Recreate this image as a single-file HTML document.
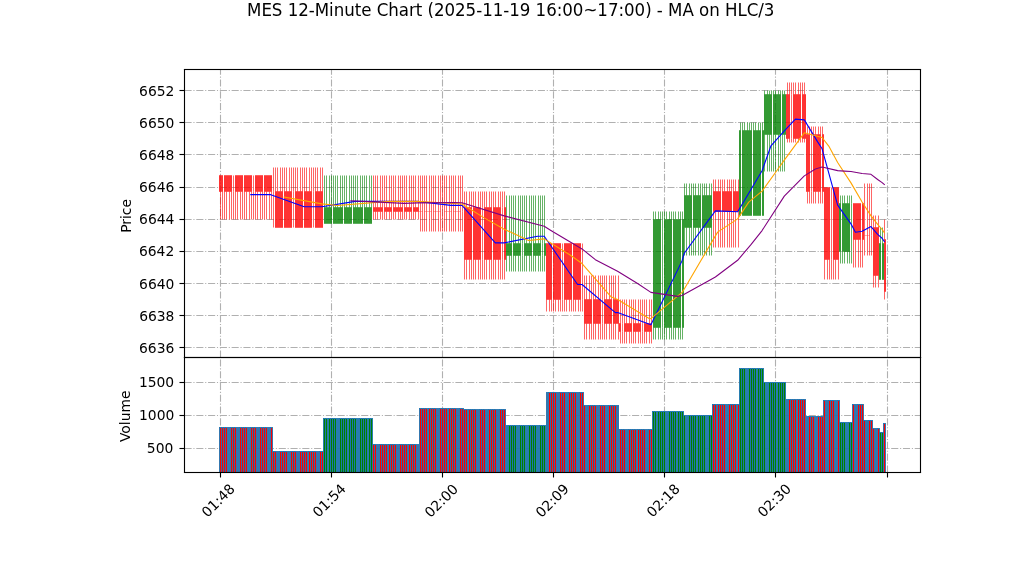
<!DOCTYPE html>
<html><head><meta charset="utf-8"><title>MES 12-Minute Chart</title>
<style>html,body{margin:0;padding:0;background:#fff;overflow:hidden}svg{display:block}</style></head>
<body>
<svg width="1022" height="575" viewBox="0 0 1022 575">
<defs><clipPath id="c1"><rect x="184" y="69" width="737" height="288"/></clipPath><clipPath id="c2"><rect x="184" y="356" width="737" height="116"/></clipPath></defs>
<rect width="1022" height="575" fill="#fff"/>
<g clip-path="url(#c1)">
<path d="M220.5 357.5V69.5M331.5 357.5V69.5M442.5 357.5V69.5M553.5 357.5V69.5M664.5 357.5V69.5M775.5 357.5V69.5M887.5 357.5V69.5M184.5 347.5H920.5M184.5 315.5H920.5M184.5 283.5H920.5M184.5 251.5H920.5M184.5 219.5H920.5M184.5 187.5H920.5M184.5 154.5H920.5M184.5 122.5H920.5M184.5 90.5H920.5" fill="none" stroke="#b0b0b0" stroke-width="1.111" stroke-dasharray="7.111 1.778 1.111 1.778"/>
<path d="M220.5 219.5V191.5M222.5 219.5V191.5M224.5 219.5V191.5M226.5 219.5V191.5M229.5 219.5V191.5M231.5 219.5V191.5M233.5 219.5V191.5M233.5 175.5V191.5M235.5 219.5V191.5M237.5 219.5V191.5M240.5 219.5V191.5M242.5 219.5V191.5M244.5 219.5V191.5M246.5 219.5V191.5M249.5 219.5V191.5M251.5 219.5V191.5M253.5 219.5V191.5M253.5 175.5V191.5M255.5 219.5V191.5M257.5 219.5V191.5M260.5 219.5V191.5M262.5 219.5V191.5M264.5 219.5V191.5M266.5 219.5V191.5M269.5 219.5V191.5M271.5 219.5V191.5M273.5 167.5V191.5M273.5 191.5V227.5M275.5 167.5V191.5M277.5 167.5V191.5M280.5 167.5V191.5M282.5 167.5V191.5M284.5 167.5V191.5M286.5 167.5V191.5M289.5 167.5V191.5M291.5 167.5V191.5M293.5 167.5V191.5M293.5 191.5V227.5M295.5 167.5V191.5M297.5 167.5V191.5M300.5 167.5V191.5M302.5 167.5V191.5M304.5 167.5V191.5M306.5 167.5V191.5M309.5 167.5V191.5M311.5 167.5V191.5M313.5 167.5V191.5M313.5 191.5V227.5M315.5 167.5V191.5M317.5 167.5V191.5M320.5 167.5V191.5M322.5 167.5V191.5M373.5 219.5V211.5M373.5 175.5V207.5M375.5 219.5V211.5M375.5 175.5V207.5M377.5 219.5V211.5M377.5 175.5V207.5M380.5 219.5V211.5M380.5 175.5V207.5M382.5 219.5V211.5M382.5 175.5V207.5M384.5 219.5V211.5M384.5 175.5V207.5M386.5 219.5V211.5M386.5 175.5V207.5M389.5 219.5V211.5M389.5 175.5V207.5M391.5 219.5V211.5M391.5 175.5V207.5M393.5 219.5V211.5M393.5 175.5V207.5M395.5 219.5V211.5M395.5 175.5V207.5M398.5 219.5V211.5M398.5 175.5V207.5M400.5 219.5V211.5M400.5 175.5V207.5M402.5 219.5V211.5M402.5 175.5V207.5M404.5 219.5V211.5M404.5 175.5V207.5M406.5 219.5V211.5M406.5 175.5V207.5M409.5 219.5V211.5M409.5 175.5V207.5M411.5 219.5V211.5M411.5 175.5V207.5M413.5 219.5V211.5M413.5 175.5V207.5M415.5 219.5V211.5M415.5 175.5V207.5M418.5 219.5V211.5M418.5 175.5V207.5M420.5 231.5V211.5M420.5 175.5V211.5M422.5 231.5V211.5M422.5 175.5V211.5M424.5 231.5V211.5M424.5 175.5V211.5M426.5 231.5V211.5M426.5 175.5V211.5M429.5 231.5V211.5M429.5 175.5V211.5M431.5 231.5V211.5M431.5 175.5V211.5M433.5 231.5V211.5M433.5 175.5V211.5M435.5 231.5V211.5M435.5 175.5V211.5M438.5 231.5V211.5M438.5 175.5V211.5M440.5 231.5V211.5M440.5 175.5V211.5M442.5 231.5V211.5M442.5 175.5V211.5M444.5 231.5V211.5M444.5 175.5V211.5M446.5 231.5V211.5M446.5 175.5V211.5M449.5 231.5V211.5M449.5 175.5V211.5M451.5 231.5V211.5M451.5 175.5V211.5M453.5 231.5V211.5M453.5 175.5V211.5M455.5 231.5V211.5M455.5 175.5V211.5M458.5 231.5V211.5M458.5 175.5V211.5M460.5 231.5V211.5M460.5 175.5V211.5M462.5 231.5V211.5M462.5 175.5V211.5M464.5 279.5V259.5M464.5 191.5V207.5M466.5 279.5V259.5M466.5 191.5V207.5M469.5 279.5V259.5M469.5 191.5V207.5M471.5 279.5V259.5M471.5 191.5V207.5M473.5 279.5V259.5M473.5 191.5V207.5M475.5 279.5V259.5M475.5 191.5V207.5M478.5 279.5V259.5M478.5 191.5V207.5M480.5 279.5V259.5M480.5 191.5V207.5M482.5 279.5V259.5M482.5 191.5V207.5M482.5 207.5V259.5M484.5 279.5V259.5M484.5 191.5V207.5M486.5 279.5V259.5M486.5 191.5V207.5M489.5 279.5V259.5M489.5 191.5V207.5M491.5 279.5V259.5M491.5 191.5V207.5M493.5 279.5V259.5M493.5 191.5V207.5M495.5 279.5V259.5M495.5 191.5V207.5M498.5 279.5V259.5M498.5 191.5V207.5M500.5 279.5V259.5M500.5 191.5V207.5M502.5 279.5V259.5M502.5 191.5V207.5M502.5 207.5V259.5M504.5 279.5V259.5M504.5 191.5V207.5M546.5 311.5V299.5M549.5 311.5V299.5M551.5 311.5V299.5M553.5 311.5V299.5M555.5 311.5V299.5M558.5 311.5V299.5M560.5 311.5V299.5M562.5 311.5V299.5M562.5 243.5V299.5M564.5 311.5V299.5M566.5 311.5V299.5M569.5 311.5V299.5M571.5 311.5V299.5M573.5 311.5V299.5M575.5 311.5V299.5M578.5 311.5V299.5M580.5 311.5V299.5M582.5 311.5V299.5M582.5 243.5V299.5M584.5 339.5V323.5M584.5 275.5V299.5M586.5 339.5V323.5M586.5 275.5V299.5M589.5 339.5V323.5M589.5 275.5V299.5M591.5 339.5V323.5M591.5 275.5V299.5M593.5 339.5V323.5M593.5 275.5V299.5M595.5 339.5V323.5M595.5 275.5V299.5M598.5 339.5V323.5M598.5 275.5V299.5M600.5 339.5V323.5M600.5 275.5V299.5M602.5 339.5V323.5M602.5 275.5V299.5M602.5 299.5V323.5M604.5 339.5V323.5M604.5 275.5V299.5M606.5 339.5V323.5M606.5 275.5V299.5M609.5 339.5V323.5M609.5 275.5V299.5M611.5 339.5V323.5M611.5 275.5V299.5M613.5 339.5V323.5M613.5 275.5V299.5M615.5 339.5V323.5M615.5 275.5V299.5M618.5 339.5V323.5M618.5 275.5V299.5M620.5 343.5V331.5M620.5 299.5V323.5M622.5 343.5V331.5M622.5 299.5V323.5M622.5 323.5V331.5M624.5 343.5V331.5M624.5 299.5V323.5M626.5 343.5V331.5M626.5 299.5V323.5M629.5 343.5V331.5M629.5 299.5V323.5M631.5 343.5V331.5M631.5 299.5V323.5M633.5 343.5V331.5M633.5 299.5V323.5M635.5 343.5V331.5M635.5 299.5V323.5M638.5 343.5V331.5M638.5 299.5V323.5M640.5 343.5V331.5M640.5 299.5V323.5M642.5 343.5V331.5M642.5 299.5V323.5M642.5 323.5V331.5M644.5 343.5V331.5M644.5 299.5V323.5M646.5 343.5V331.5M646.5 299.5V323.5M649.5 343.5V331.5M649.5 299.5V323.5M651.5 343.5V331.5M651.5 299.5V323.5M713.5 247.5V211.5M713.5 179.5V191.5M715.5 247.5V211.5M715.5 179.5V191.5M718.5 247.5V211.5M718.5 179.5V191.5M720.5 247.5V211.5M720.5 179.5V191.5M722.5 247.5V211.5M722.5 179.5V191.5M724.5 247.5V211.5M724.5 179.5V191.5M727.5 247.5V211.5M727.5 179.5V191.5M729.5 247.5V211.5M729.5 179.5V191.5M731.5 247.5V211.5M731.5 179.5V191.5M733.5 247.5V211.5M733.5 179.5V191.5M735.5 247.5V211.5M735.5 179.5V191.5M738.5 247.5V211.5M738.5 179.5V191.5M787.5 142.5V138.5M787.5 82.5V94.5M789.5 142.5V138.5M789.5 82.5V94.5M791.5 142.5V138.5M791.5 82.5V94.5M791.5 94.5V138.5M793.5 142.5V138.5M793.5 82.5V94.5M795.5 142.5V138.5M795.5 82.5V94.5M798.5 142.5V138.5M798.5 82.5V94.5M800.5 142.5V138.5M800.5 82.5V94.5M802.5 142.5V138.5M802.5 82.5V94.5M804.5 142.5V138.5M804.5 82.5V94.5M807.5 203.5V191.5M807.5 126.5V134.5M809.5 203.5V191.5M809.5 126.5V134.5M811.5 203.5V191.5M811.5 126.5V134.5M811.5 134.5V191.5M813.5 203.5V191.5M813.5 126.5V134.5M815.5 203.5V191.5M815.5 126.5V134.5M818.5 203.5V191.5M818.5 126.5V134.5M820.5 203.5V191.5M820.5 126.5V134.5M822.5 203.5V191.5M822.5 126.5V134.5M824.5 279.5V259.5M827.5 279.5V259.5M829.5 279.5V259.5M831.5 279.5V259.5M831.5 187.5V259.5M833.5 279.5V259.5M835.5 279.5V259.5M838.5 279.5V259.5M853.5 267.5V239.5M855.5 267.5V239.5M858.5 267.5V239.5M860.5 267.5V239.5M862.5 267.5V239.5M864.5 255.5V235.5M864.5 183.5V235.5M867.5 255.5V235.5M867.5 183.5V235.5M869.5 255.5V235.5M869.5 183.5V235.5M871.5 255.5V235.5M871.5 183.5V235.5M873.5 287.5V275.5M873.5 215.5V227.5M875.5 287.5V275.5M875.5 215.5V227.5M878.5 287.5V275.5M878.5 215.5V227.5M884.5 299.5V291.5M884.5 219.5V239.5" fill="none" stroke="#f00" stroke-width="0.604"/>
<path d="M324.5 175.5V207.5M326.5 175.5V207.5M329.5 175.5V207.5M331.5 175.5V207.5M333.5 175.5V207.5M335.5 175.5V207.5M337.5 175.5V207.5M340.5 175.5V207.5M342.5 175.5V207.5M344.5 175.5V207.5M346.5 175.5V207.5M349.5 175.5V207.5M351.5 175.5V207.5M353.5 175.5V207.5M355.5 175.5V207.5M357.5 175.5V207.5M360.5 175.5V207.5M362.5 175.5V207.5M364.5 175.5V207.5M366.5 175.5V207.5M369.5 175.5V207.5M371.5 175.5V207.5M506.5 271.5V255.5M506.5 195.5V243.5M509.5 271.5V255.5M509.5 195.5V243.5M511.5 271.5V255.5M511.5 195.5V243.5M513.5 271.5V255.5M513.5 195.5V243.5M515.5 271.5V255.5M515.5 195.5V243.5M518.5 271.5V255.5M518.5 195.5V243.5M520.5 271.5V255.5M520.5 195.5V243.5M522.5 271.5V255.5M522.5 195.5V243.5M522.5 243.5V255.5M524.5 271.5V255.5M524.5 195.5V243.5M526.5 271.5V255.5M526.5 195.5V243.5M529.5 271.5V255.5M529.5 195.5V243.5M531.5 271.5V255.5M531.5 195.5V243.5M533.5 271.5V255.5M533.5 195.5V243.5M535.5 271.5V255.5M535.5 195.5V243.5M538.5 271.5V255.5M538.5 195.5V243.5M540.5 271.5V255.5M540.5 195.5V243.5M542.5 271.5V255.5M542.5 195.5V243.5M542.5 243.5V255.5M544.5 271.5V255.5M544.5 195.5V243.5M653.5 339.5V327.5M653.5 211.5V219.5M655.5 339.5V327.5M655.5 211.5V219.5M658.5 339.5V327.5M658.5 211.5V219.5M660.5 339.5V327.5M660.5 211.5V219.5M662.5 339.5V327.5M662.5 211.5V219.5M662.5 219.5V327.5M664.5 339.5V327.5M664.5 211.5V219.5M666.5 339.5V327.5M666.5 211.5V219.5M669.5 339.5V327.5M669.5 211.5V219.5M671.5 339.5V327.5M671.5 211.5V219.5M673.5 339.5V327.5M673.5 211.5V219.5M675.5 339.5V327.5M675.5 211.5V219.5M678.5 339.5V327.5M678.5 211.5V219.5M680.5 339.5V327.5M680.5 211.5V219.5M682.5 339.5V327.5M682.5 211.5V219.5M684.5 255.5V227.5M684.5 183.5V195.5M686.5 255.5V227.5M686.5 183.5V195.5M689.5 255.5V227.5M689.5 183.5V195.5M691.5 255.5V227.5M691.5 183.5V195.5M693.5 255.5V227.5M693.5 183.5V195.5M695.5 255.5V227.5M695.5 183.5V195.5M698.5 255.5V227.5M698.5 183.5V195.5M700.5 255.5V227.5M700.5 183.5V195.5M702.5 255.5V227.5M702.5 183.5V195.5M704.5 255.5V227.5M704.5 183.5V195.5M706.5 255.5V227.5M706.5 183.5V195.5M709.5 255.5V227.5M709.5 183.5V195.5M711.5 255.5V227.5M711.5 183.5V195.5M740.5 122.5V130.5M742.5 122.5V130.5M744.5 122.5V130.5M747.5 122.5V130.5M749.5 122.5V130.5M751.5 122.5V130.5M753.5 122.5V130.5M755.5 122.5V130.5M758.5 122.5V130.5M760.5 122.5V130.5M762.5 122.5V130.5M764.5 171.5V134.5M764.5 90.5V94.5M767.5 171.5V134.5M767.5 90.5V94.5M769.5 171.5V134.5M769.5 90.5V94.5M771.5 171.5V134.5M771.5 90.5V94.5M773.5 171.5V134.5M773.5 90.5V94.5M775.5 171.5V134.5M775.5 90.5V94.5M778.5 171.5V134.5M778.5 90.5V94.5M780.5 171.5V134.5M780.5 90.5V94.5M782.5 171.5V134.5M782.5 90.5V94.5M784.5 171.5V134.5M784.5 90.5V94.5M840.5 263.5V251.5M840.5 195.5V203.5M842.5 263.5V251.5M842.5 195.5V203.5M844.5 263.5V251.5M844.5 195.5V203.5M847.5 263.5V251.5M847.5 195.5V203.5M849.5 263.5V251.5M849.5 195.5V203.5M851.5 263.5V251.5M851.5 195.5V203.5M851.5 203.5V251.5M880.5 227.5V243.5M882.5 227.5V243.5" fill="none" stroke="#008000" stroke-width="0.604"/>
<path d="M419.5 211.5H420.5M421.5 211.5H422.5M424.5 211.5H425.5M426.5 211.5H427.5M428.5 211.5H429.5M430.5 211.5H431.5M433.5 211.5H434.5M435.5 211.5H436.5M437.5 211.5H438.5M439.5 211.5H440.5M444.5 211.5H445.5M446.5 211.5H447.5M448.5 211.5H449.5M450.5 211.5H451.5M453.5 211.5H454.5M455.5 211.5H456.5M457.5 211.5H458.5M459.5 211.5H460.5M864.5 235.5H865.5M866.5 235.5H867.5M868.5 235.5H869.5" fill="none" stroke="#f00" stroke-width="0.604"/>
<path d="M219.5 175.5V191.5H220.5V175.5ZM221.5 175.5V191.5H222.5V175.5ZM224.5 175.5V191.5H225.5V175.5ZM226.5 175.5V191.5H227.5V175.5ZM228.5 175.5V191.5H229.5V175.5ZM230.5 175.5V191.5H231.5V175.5ZM235.5 175.5V191.5H236.5V175.5ZM237.5 175.5V191.5H238.5V175.5ZM239.5 175.5V191.5H240.5V175.5ZM241.5 175.5V191.5H242.5V175.5ZM244.5 175.5V191.5H245.5V175.5ZM246.5 175.5V191.5H247.5V175.5ZM248.5 175.5V191.5H249.5V175.5ZM250.5 175.5V191.5H251.5V175.5ZM255.5 175.5V191.5H256.5V175.5ZM257.5 175.5V191.5H258.5V175.5ZM259.5 175.5V191.5H260.5V175.5ZM261.5 175.5V191.5H262.5V175.5ZM264.5 175.5V191.5H265.5V175.5ZM266.5 175.5V191.5H267.5V175.5ZM268.5 175.5V191.5H269.5V175.5ZM270.5 175.5V191.5H271.5V175.5ZM275.5 191.5V227.5H276.5V191.5ZM277.5 191.5V227.5H278.5V191.5ZM279.5 191.5V227.5H280.5V191.5ZM281.5 191.5V227.5H282.5V191.5ZM284.5 191.5V227.5H285.5V191.5ZM286.5 191.5V227.5H287.5V191.5ZM288.5 191.5V227.5H289.5V191.5ZM290.5 191.5V227.5H291.5V191.5ZM295.5 191.5V227.5H296.5V191.5ZM297.5 191.5V227.5H298.5V191.5ZM299.5 191.5V227.5H300.5V191.5ZM301.5 191.5V227.5H302.5V191.5ZM304.5 191.5V227.5H305.5V191.5ZM306.5 191.5V227.5H307.5V191.5ZM308.5 191.5V227.5H309.5V191.5ZM310.5 191.5V227.5H311.5V191.5ZM315.5 191.5V227.5H316.5V191.5ZM317.5 191.5V227.5H318.5V191.5ZM319.5 191.5V227.5H320.5V191.5ZM321.5 191.5V227.5H322.5V191.5ZM373.5 207.5V211.5H374.5V207.5ZM375.5 207.5V211.5H376.5V207.5ZM377.5 207.5V211.5H378.5V207.5ZM379.5 207.5V211.5H380.5V207.5ZM381.5 207.5V211.5H382.5V207.5ZM384.5 207.5V211.5H385.5V207.5ZM386.5 207.5V211.5H387.5V207.5ZM388.5 207.5V211.5H389.5V207.5ZM390.5 207.5V211.5H391.5V207.5ZM393.5 207.5V211.5H394.5V207.5ZM395.5 207.5V211.5H396.5V207.5ZM397.5 207.5V211.5H398.5V207.5ZM399.5 207.5V211.5H400.5V207.5ZM401.5 207.5V211.5H402.5V207.5ZM404.5 207.5V211.5H405.5V207.5ZM406.5 207.5V211.5H407.5V207.5ZM408.5 207.5V211.5H409.5V207.5ZM410.5 207.5V211.5H411.5V207.5ZM413.5 207.5V211.5H414.5V207.5ZM415.5 207.5V211.5H416.5V207.5ZM417.5 207.5V211.5H418.5V207.5ZM464.5 207.5V259.5H465.5V207.5ZM466.5 207.5V259.5H467.5V207.5ZM468.5 207.5V259.5H469.5V207.5ZM470.5 207.5V259.5H471.5V207.5ZM473.5 207.5V259.5H474.5V207.5ZM475.5 207.5V259.5H476.5V207.5ZM477.5 207.5V259.5H478.5V207.5ZM479.5 207.5V259.5H480.5V207.5ZM484.5 207.5V259.5H485.5V207.5ZM486.5 207.5V259.5H487.5V207.5ZM488.5 207.5V259.5H489.5V207.5ZM490.5 207.5V259.5H491.5V207.5ZM493.5 207.5V259.5H494.5V207.5ZM495.5 207.5V259.5H496.5V207.5ZM497.5 207.5V259.5H498.5V207.5ZM499.5 207.5V259.5H500.5V207.5ZM504.5 207.5V259.5H505.5V207.5ZM546.5 243.5V299.5H547.5V243.5ZM548.5 243.5V299.5H549.5V243.5ZM550.5 243.5V299.5H551.5V243.5ZM553.5 243.5V299.5H554.5V243.5ZM555.5 243.5V299.5H556.5V243.5ZM557.5 243.5V299.5H558.5V243.5ZM559.5 243.5V299.5H560.5V243.5ZM564.5 243.5V299.5H565.5V243.5ZM566.5 243.5V299.5H567.5V243.5ZM568.5 243.5V299.5H569.5V243.5ZM570.5 243.5V299.5H571.5V243.5ZM573.5 243.5V299.5H574.5V243.5ZM575.5 243.5V299.5H576.5V243.5ZM577.5 243.5V299.5H578.5V243.5ZM579.5 243.5V299.5H580.5V243.5ZM584.5 299.5V323.5H585.5V299.5ZM586.5 299.5V323.5H587.5V299.5ZM588.5 299.5V323.5H589.5V299.5ZM590.5 299.5V323.5H591.5V299.5ZM593.5 299.5V323.5H594.5V299.5ZM595.5 299.5V323.5H596.5V299.5ZM597.5 299.5V323.5H598.5V299.5ZM599.5 299.5V323.5H600.5V299.5ZM604.5 299.5V323.5H605.5V299.5ZM606.5 299.5V323.5H607.5V299.5ZM608.5 299.5V323.5H609.5V299.5ZM610.5 299.5V323.5H611.5V299.5ZM613.5 299.5V323.5H614.5V299.5ZM615.5 299.5V323.5H616.5V299.5ZM617.5 299.5V323.5H618.5V299.5ZM619.5 323.5V331.5H620.5V323.5ZM624.5 323.5V331.5H625.5V323.5ZM626.5 323.5V331.5H627.5V323.5ZM628.5 323.5V331.5H629.5V323.5ZM630.5 323.5V331.5H631.5V323.5ZM633.5 323.5V331.5H634.5V323.5ZM635.5 323.5V331.5H636.5V323.5ZM637.5 323.5V331.5H638.5V323.5ZM639.5 323.5V331.5H640.5V323.5ZM644.5 323.5V331.5H645.5V323.5ZM646.5 323.5V331.5H647.5V323.5ZM648.5 323.5V331.5H649.5V323.5ZM650.5 323.5V331.5H651.5V323.5ZM713.5 191.5V211.5H714.5V191.5ZM715.5 191.5V211.5H716.5V191.5ZM717.5 191.5V211.5H718.5V191.5ZM719.5 191.5V211.5H720.5V191.5ZM722.5 191.5V211.5H723.5V191.5ZM724.5 191.5V211.5H725.5V191.5ZM726.5 191.5V211.5H727.5V191.5ZM728.5 191.5V211.5H729.5V191.5ZM730.5 191.5V211.5H731.5V191.5ZM733.5 191.5V211.5H734.5V191.5ZM735.5 191.5V211.5H736.5V191.5ZM737.5 191.5V211.5H738.5V191.5ZM786.5 94.5V138.5H787.5V94.5ZM788.5 94.5V138.5H789.5V94.5ZM793.5 94.5V138.5H794.5V94.5ZM795.5 94.5V138.5H796.5V94.5ZM797.5 94.5V138.5H798.5V94.5ZM799.5 94.5V138.5H800.5V94.5ZM802.5 94.5V138.5H803.5V94.5ZM804.5 94.5V138.5H805.5V94.5ZM806.5 134.5V191.5H807.5V134.5ZM808.5 134.5V191.5H809.5V134.5ZM813.5 134.5V191.5H814.5V134.5ZM815.5 134.5V191.5H816.5V134.5ZM817.5 134.5V191.5H818.5V134.5ZM819.5 134.5V191.5H820.5V134.5ZM822.5 134.5V191.5H823.5V134.5ZM824.5 187.5V259.5H825.5V187.5ZM826.5 187.5V259.5H827.5V187.5ZM828.5 187.5V259.5H829.5V187.5ZM833.5 187.5V259.5H834.5V187.5ZM835.5 187.5V259.5H836.5V187.5ZM837.5 187.5V259.5H838.5V187.5ZM853.5 203.5V239.5H854.5V203.5ZM855.5 203.5V239.5H856.5V203.5ZM857.5 203.5V239.5H858.5V203.5ZM859.5 203.5V239.5H860.5V203.5ZM862.5 203.5V239.5H863.5V203.5ZM873.5 227.5V275.5H874.5V227.5ZM875.5 227.5V275.5H876.5V227.5ZM877.5 227.5V275.5H878.5V227.5ZM884.5 239.5V291.5H885.5V239.5Z" fill="#f00" stroke="#f00" stroke-width="0.604" stroke-linejoin="round"/>
<path d="M324.5 223.5V207.5H325.5V223.5ZM326.5 223.5V207.5H327.5V223.5ZM328.5 223.5V207.5H329.5V223.5ZM330.5 223.5V207.5H331.5V223.5ZM333.5 223.5V207.5H334.5V223.5ZM335.5 223.5V207.5H336.5V223.5ZM337.5 223.5V207.5H338.5V223.5ZM339.5 223.5V207.5H340.5V223.5ZM341.5 223.5V207.5H342.5V223.5ZM344.5 223.5V207.5H345.5V223.5ZM346.5 223.5V207.5H347.5V223.5ZM348.5 223.5V207.5H349.5V223.5ZM350.5 223.5V207.5H351.5V223.5ZM353.5 223.5V207.5H354.5V223.5ZM355.5 223.5V207.5H356.5V223.5ZM357.5 223.5V207.5H358.5V223.5ZM359.5 223.5V207.5H360.5V223.5ZM361.5 223.5V207.5H362.5V223.5ZM364.5 223.5V207.5H365.5V223.5ZM366.5 223.5V207.5H367.5V223.5ZM368.5 223.5V207.5H369.5V223.5ZM370.5 223.5V207.5H371.5V223.5ZM506.5 255.5V243.5H507.5V255.5ZM508.5 255.5V243.5H509.5V255.5ZM510.5 255.5V243.5H511.5V255.5ZM513.5 255.5V243.5H514.5V255.5ZM515.5 255.5V243.5H516.5V255.5ZM517.5 255.5V243.5H518.5V255.5ZM519.5 255.5V243.5H520.5V255.5ZM524.5 255.5V243.5H525.5V255.5ZM526.5 255.5V243.5H527.5V255.5ZM528.5 255.5V243.5H529.5V255.5ZM530.5 255.5V243.5H531.5V255.5ZM533.5 255.5V243.5H534.5V255.5ZM535.5 255.5V243.5H536.5V255.5ZM537.5 255.5V243.5H538.5V255.5ZM539.5 255.5V243.5H540.5V255.5ZM544.5 255.5V243.5H545.5V255.5ZM653.5 327.5V219.5H654.5V327.5ZM655.5 327.5V219.5H656.5V327.5ZM657.5 327.5V219.5H658.5V327.5ZM659.5 327.5V219.5H660.5V327.5ZM664.5 327.5V219.5H665.5V327.5ZM666.5 327.5V219.5H667.5V327.5ZM668.5 327.5V219.5H669.5V327.5ZM670.5 327.5V219.5H671.5V327.5ZM673.5 327.5V219.5H674.5V327.5ZM675.5 327.5V219.5H676.5V327.5ZM677.5 327.5V219.5H678.5V327.5ZM679.5 327.5V219.5H680.5V327.5ZM682.5 327.5V219.5H683.5V327.5ZM684.5 227.5V195.5H685.5V227.5ZM686.5 227.5V195.5H687.5V227.5ZM688.5 227.5V195.5H689.5V227.5ZM690.5 227.5V195.5H691.5V227.5ZM693.5 227.5V195.5H694.5V227.5ZM695.5 227.5V195.5H696.5V227.5ZM697.5 227.5V195.5H698.5V227.5ZM699.5 227.5V195.5H700.5V227.5ZM702.5 227.5V195.5H703.5V227.5ZM704.5 227.5V195.5H705.5V227.5ZM706.5 227.5V195.5H707.5V227.5ZM708.5 227.5V195.5H709.5V227.5ZM710.5 227.5V195.5H711.5V227.5ZM739.5 215.5V130.5H740.5V215.5ZM742.5 215.5V130.5H743.5V215.5ZM744.5 215.5V130.5H745.5V215.5ZM746.5 215.5V130.5H747.5V215.5ZM748.5 215.5V130.5H749.5V215.5ZM750.5 215.5V130.5H751.5V215.5ZM753.5 215.5V130.5H754.5V215.5ZM755.5 215.5V130.5H756.5V215.5ZM757.5 215.5V130.5H758.5V215.5ZM759.5 215.5V130.5H760.5V215.5ZM762.5 215.5V130.5H763.5V215.5ZM764.5 134.5V94.5H765.5V134.5ZM766.5 134.5V94.5H767.5V134.5ZM768.5 134.5V94.5H769.5V134.5ZM770.5 134.5V94.5H771.5V134.5ZM773.5 134.5V94.5H774.5V134.5ZM775.5 134.5V94.5H776.5V134.5ZM777.5 134.5V94.5H778.5V134.5ZM779.5 134.5V94.5H780.5V134.5ZM782.5 134.5V94.5H783.5V134.5ZM784.5 134.5V94.5H785.5V134.5ZM839.5 251.5V203.5H840.5V251.5ZM842.5 251.5V203.5H843.5V251.5ZM844.5 251.5V203.5H845.5V251.5ZM846.5 251.5V203.5H847.5V251.5ZM848.5 251.5V203.5H849.5V251.5ZM879.5 279.5V243.5H880.5V279.5ZM882.5 279.5V243.5H883.5V279.5Z" fill="#008000" stroke="#008000" stroke-width="0.604" stroke-linejoin="round"/>
<path d="M250.79 194.656 L270.797 194.656 L304.141 206.719 L321.925 206.719 L355.269 201.357 L417.512 201.357 L450.856 205.378 L461.971 205.378 L495.315 242.907 L504.207 242.907 L537.551 236.206 L544.22 236.206 L577.564 284.457 L582.01 284.457 L615.354 312.604 L617.577 312.604 L650.921 324.667 L682.043 260.868 L684.266 253.273 L710.941 216.816 L715.387 210.918 L737.617 211.812 L744.285 200.821 L762.069 170.798 L770.961 145.778 L784.298 130.767 L795.413 119.151 L804.305 119.865 L817.643 141.847 L822.089 148.816 L837.649 205.11 L850.987 223.875 L855.433 232.274 L862.102 231.202 L870.994 226.555 L877.662 234.329 L882.108 238.261 L884.331 241.567" fill="none" stroke="#00f" stroke-width="1.099" stroke-linecap="square" stroke-linejoin="round"/>
<path d="M284.135 197.068 L321.925 203.904 L337.486 205.468 L388.613 201.357 L417.512 201.357 L461.971 204.038 L484.2 217.888 L504.207 229.147 L528.659 240.45 L544.22 238.886 L570.895 255.506 L582.01 263.548 L610.908 296.654 L617.577 299.469 L648.699 318.234 L650.921 318.636 L682.043 292.365 L684.266 288.97 L710.941 243.399 L717.61 232.14 L737.617 218.871 L748.731 202.117 L762.069 191.126 L777.63 169.547 L784.298 160.165 L804.305 132.822 L822.089 137.468 L828.757 146.046 L837.649 162.488 L850.987 182.861 L862.102 202.072 L870.994 215.833 L877.662 224.411 L882.108 229.504 L884.331 232.721" fill="none" stroke="#ffa500" stroke-width="1.099" stroke-linecap="square" stroke-linejoin="round"/>
<path d="M350.823 200.732 L404.174 203.412 L417.512 202.876 L455.302 202.497 L461.971 202.698 L504.207 215.855 L544.22 226.31 L550.889 230.465 L582.01 248.916 L595.348 259.639 L617.577 271.255 L637.584 283.519 L650.921 292.365 L677.597 296.386 L682.043 295.448 L710.941 279.476 L715.387 277.063 L737.617 260.309 L750.954 244.627 L762.069 230.554 L784.298 196.152 L804.305 175.846 L815.42 168.921 L822.089 167.045 L837.649 170.641 L844.318 171.111 L850.987 171.513 L862.102 173.523 L870.994 174.327 L877.662 179.488 L882.108 182.615 L884.331 184.514" fill="none" stroke="#800080" stroke-width="1.099" stroke-linecap="square" stroke-linejoin="round"/>
</g>
<g clip-path="url(#c2)">
<path d="M220.5 472.5V357.5M331.5 472.5V357.5M442.5 472.5V357.5M553.5 472.5V357.5M664.5 472.5V357.5M775.5 472.5V357.5M887.5 472.5V357.5M184.5 448.5H920.5M184.5 415.5H920.5M184.5 382.5H920.5" fill="none" stroke="#b0b0b0" stroke-width="1.111" stroke-dasharray="7.111 1.778 1.111 1.778"/>
<g stroke="#1f77b4" stroke-width="0.903">
<rect x="219.5" y="427.5" width="2" height="53" fill="#f00"/>
<rect x="221.5" y="427.5" width="2" height="53" fill="#f00"/>
<rect x="223.5" y="427.5" width="2" height="53" fill="#f00"/>
<rect x="225.5" y="427.5" width="2" height="53" fill="#f00"/>
<rect x="228.5" y="427.5" width="1" height="53" fill="#f00"/>
<rect x="230.5" y="427.5" width="2" height="53" fill="#f00"/>
<rect x="232.5" y="427.5" width="2" height="53" fill="#f00"/>
<rect x="234.5" y="427.5" width="2" height="53" fill="#f00"/>
<rect x="237.5" y="427.5" width="1" height="53" fill="#f00"/>
<rect x="239.5" y="427.5" width="2" height="53" fill="#f00"/>
<rect x="241.5" y="427.5" width="2" height="53" fill="#f00"/>
<rect x="243.5" y="427.5" width="2" height="53" fill="#f00"/>
<rect x="245.5" y="427.5" width="2" height="53" fill="#f00"/>
<rect x="248.5" y="427.5" width="1" height="53" fill="#f00"/>
<rect x="250.5" y="427.5" width="2" height="53" fill="#f00"/>
<rect x="252.5" y="427.5" width="2" height="53" fill="#f00"/>
<rect x="254.5" y="427.5" width="2" height="53" fill="#f00"/>
<rect x="257.5" y="427.5" width="1" height="53" fill="#f00"/>
<rect x="259.5" y="427.5" width="2" height="53" fill="#f00"/>
<rect x="261.5" y="427.5" width="2" height="53" fill="#f00"/>
<rect x="263.5" y="427.5" width="2" height="53" fill="#f00"/>
<rect x="265.5" y="427.5" width="2" height="53" fill="#f00"/>
<rect x="268.5" y="427.5" width="1" height="53" fill="#f00"/>
<rect x="270.5" y="427.5" width="2" height="53" fill="#f00"/>
<rect x="272.5" y="451.5" width="2" height="29" fill="#f00"/>
<rect x="274.5" y="451.5" width="2" height="29" fill="#f00"/>
<rect x="277.5" y="451.5" width="1" height="29" fill="#f00"/>
<rect x="279.5" y="451.5" width="2" height="29" fill="#f00"/>
<rect x="281.5" y="451.5" width="2" height="29" fill="#f00"/>
<rect x="283.5" y="451.5" width="2" height="29" fill="#f00"/>
<rect x="285.5" y="451.5" width="2" height="29" fill="#f00"/>
<rect x="288.5" y="451.5" width="1" height="29" fill="#f00"/>
<rect x="290.5" y="451.5" width="2" height="29" fill="#f00"/>
<rect x="292.5" y="451.5" width="2" height="29" fill="#f00"/>
<rect x="294.5" y="451.5" width="2" height="29" fill="#f00"/>
<rect x="297.5" y="451.5" width="1" height="29" fill="#f00"/>
<rect x="299.5" y="451.5" width="2" height="29" fill="#f00"/>
<rect x="301.5" y="451.5" width="2" height="29" fill="#f00"/>
<rect x="303.5" y="451.5" width="2" height="29" fill="#f00"/>
<rect x="305.5" y="451.5" width="2" height="29" fill="#f00"/>
<rect x="308.5" y="451.5" width="2" height="29" fill="#f00"/>
<rect x="310.5" y="451.5" width="2" height="29" fill="#f00"/>
<rect x="312.5" y="451.5" width="2" height="29" fill="#f00"/>
<rect x="314.5" y="451.5" width="2" height="29" fill="#f00"/>
<rect x="317.5" y="451.5" width="1" height="29" fill="#f00"/>
<rect x="319.5" y="451.5" width="2" height="29" fill="#f00"/>
<rect x="321.5" y="451.5" width="2" height="29" fill="#f00"/>
<rect x="323.5" y="418.5" width="2" height="62" fill="#008000"/>
<rect x="325.5" y="418.5" width="2" height="62" fill="#008000"/>
<rect x="328.5" y="418.5" width="2" height="62" fill="#008000"/>
<rect x="330.5" y="418.5" width="2" height="62" fill="#008000"/>
<rect x="332.5" y="418.5" width="2" height="62" fill="#008000"/>
<rect x="334.5" y="418.5" width="2" height="62" fill="#008000"/>
<rect x="337.5" y="418.5" width="1" height="62" fill="#008000"/>
<rect x="339.5" y="418.5" width="2" height="62" fill="#008000"/>
<rect x="341.5" y="418.5" width="2" height="62" fill="#008000"/>
<rect x="343.5" y="418.5" width="2" height="62" fill="#008000"/>
<rect x="345.5" y="418.5" width="2" height="62" fill="#008000"/>
<rect x="348.5" y="418.5" width="2" height="62" fill="#008000"/>
<rect x="350.5" y="418.5" width="2" height="62" fill="#008000"/>
<rect x="352.5" y="418.5" width="2" height="62" fill="#008000"/>
<rect x="354.5" y="418.5" width="2" height="62" fill="#008000"/>
<rect x="357.5" y="418.5" width="1" height="62" fill="#008000"/>
<rect x="359.5" y="418.5" width="2" height="62" fill="#008000"/>
<rect x="361.5" y="418.5" width="2" height="62" fill="#008000"/>
<rect x="363.5" y="418.5" width="2" height="62" fill="#008000"/>
<rect x="365.5" y="418.5" width="2" height="62" fill="#008000"/>
<rect x="368.5" y="418.5" width="2" height="62" fill="#008000"/>
<rect x="370.5" y="418.5" width="2" height="62" fill="#008000"/>
<rect x="372.5" y="444.5" width="2" height="36" fill="#f00"/>
<rect x="374.5" y="444.5" width="2" height="36" fill="#f00"/>
<rect x="377.5" y="444.5" width="1" height="36" fill="#f00"/>
<rect x="379.5" y="444.5" width="2" height="36" fill="#f00"/>
<rect x="381.5" y="444.5" width="2" height="36" fill="#f00"/>
<rect x="383.5" y="444.5" width="2" height="36" fill="#f00"/>
<rect x="385.5" y="444.5" width="2" height="36" fill="#f00"/>
<rect x="388.5" y="444.5" width="2" height="36" fill="#f00"/>
<rect x="390.5" y="444.5" width="2" height="36" fill="#f00"/>
<rect x="392.5" y="444.5" width="2" height="36" fill="#f00"/>
<rect x="394.5" y="444.5" width="2" height="36" fill="#f00"/>
<rect x="397.5" y="444.5" width="1" height="36" fill="#f00"/>
<rect x="399.5" y="444.5" width="2" height="36" fill="#f00"/>
<rect x="401.5" y="444.5" width="2" height="36" fill="#f00"/>
<rect x="403.5" y="444.5" width="2" height="36" fill="#f00"/>
<rect x="405.5" y="444.5" width="2" height="36" fill="#f00"/>
<rect x="408.5" y="444.5" width="2" height="36" fill="#f00"/>
<rect x="410.5" y="444.5" width="2" height="36" fill="#f00"/>
<rect x="412.5" y="444.5" width="2" height="36" fill="#f00"/>
<rect x="414.5" y="444.5" width="2" height="36" fill="#f00"/>
<rect x="417.5" y="444.5" width="1" height="36" fill="#f00"/>
<rect x="419.5" y="408.5" width="2" height="72" fill="#f00"/>
<rect x="421.5" y="408.5" width="2" height="72" fill="#f00"/>
<rect x="423.5" y="408.5" width="2" height="72" fill="#f00"/>
<rect x="425.5" y="408.5" width="2" height="72" fill="#f00"/>
<rect x="428.5" y="408.5" width="2" height="72" fill="#f00"/>
<rect x="430.5" y="408.5" width="2" height="72" fill="#f00"/>
<rect x="432.5" y="408.5" width="2" height="72" fill="#f00"/>
<rect x="434.5" y="408.5" width="2" height="72" fill="#f00"/>
<rect x="437.5" y="408.5" width="1" height="72" fill="#f00"/>
<rect x="439.5" y="408.5" width="2" height="72" fill="#f00"/>
<rect x="441.5" y="408.5" width="2" height="72" fill="#f00"/>
<rect x="443.5" y="408.5" width="2" height="72" fill="#f00"/>
<rect x="445.5" y="408.5" width="2" height="72" fill="#f00"/>
<rect x="448.5" y="408.5" width="2" height="72" fill="#f00"/>
<rect x="450.5" y="408.5" width="2" height="72" fill="#f00"/>
<rect x="452.5" y="408.5" width="2" height="72" fill="#f00"/>
<rect x="454.5" y="408.5" width="2" height="72" fill="#f00"/>
<rect x="457.5" y="408.5" width="1" height="72" fill="#f00"/>
<rect x="459.5" y="408.5" width="2" height="72" fill="#f00"/>
<rect x="461.5" y="408.5" width="2" height="72" fill="#f00"/>
<rect x="463.5" y="409.5" width="2" height="71" fill="#f00"/>
<rect x="465.5" y="409.5" width="2" height="71" fill="#f00"/>
<rect x="468.5" y="409.5" width="2" height="71" fill="#f00"/>
<rect x="470.5" y="409.5" width="2" height="71" fill="#f00"/>
<rect x="472.5" y="409.5" width="2" height="71" fill="#f00"/>
<rect x="474.5" y="409.5" width="2" height="71" fill="#f00"/>
<rect x="477.5" y="409.5" width="1" height="71" fill="#f00"/>
<rect x="479.5" y="409.5" width="2" height="71" fill="#f00"/>
<rect x="481.5" y="409.5" width="2" height="71" fill="#f00"/>
<rect x="483.5" y="409.5" width="2" height="71" fill="#f00"/>
<rect x="486.5" y="409.5" width="1" height="71" fill="#f00"/>
<rect x="488.5" y="409.5" width="2" height="71" fill="#f00"/>
<rect x="490.5" y="409.5" width="2" height="71" fill="#f00"/>
<rect x="492.5" y="409.5" width="2" height="71" fill="#f00"/>
<rect x="494.5" y="409.5" width="2" height="71" fill="#f00"/>
<rect x="497.5" y="409.5" width="1" height="71" fill="#f00"/>
<rect x="499.5" y="409.5" width="2" height="71" fill="#f00"/>
<rect x="501.5" y="409.5" width="2" height="71" fill="#f00"/>
<rect x="503.5" y="409.5" width="2" height="71" fill="#f00"/>
<rect x="506.5" y="425.5" width="1" height="55" fill="#008000"/>
<rect x="508.5" y="425.5" width="2" height="55" fill="#008000"/>
<rect x="510.5" y="425.5" width="2" height="55" fill="#008000"/>
<rect x="512.5" y="425.5" width="2" height="55" fill="#008000"/>
<rect x="514.5" y="425.5" width="2" height="55" fill="#008000"/>
<rect x="517.5" y="425.5" width="1" height="55" fill="#008000"/>
<rect x="519.5" y="425.5" width="2" height="55" fill="#008000"/>
<rect x="521.5" y="425.5" width="2" height="55" fill="#008000"/>
<rect x="523.5" y="425.5" width="2" height="55" fill="#008000"/>
<rect x="526.5" y="425.5" width="1" height="55" fill="#008000"/>
<rect x="528.5" y="425.5" width="2" height="55" fill="#008000"/>
<rect x="530.5" y="425.5" width="2" height="55" fill="#008000"/>
<rect x="532.5" y="425.5" width="2" height="55" fill="#008000"/>
<rect x="534.5" y="425.5" width="2" height="55" fill="#008000"/>
<rect x="537.5" y="425.5" width="1" height="55" fill="#008000"/>
<rect x="539.5" y="425.5" width="2" height="55" fill="#008000"/>
<rect x="541.5" y="425.5" width="2" height="55" fill="#008000"/>
<rect x="543.5" y="425.5" width="2" height="55" fill="#008000"/>
<rect x="546.5" y="392.5" width="1" height="88" fill="#f00"/>
<rect x="548.5" y="392.5" width="2" height="88" fill="#f00"/>
<rect x="550.5" y="392.5" width="2" height="88" fill="#f00"/>
<rect x="552.5" y="392.5" width="2" height="88" fill="#f00"/>
<rect x="554.5" y="392.5" width="2" height="88" fill="#f00"/>
<rect x="557.5" y="392.5" width="1" height="88" fill="#f00"/>
<rect x="559.5" y="392.5" width="2" height="88" fill="#f00"/>
<rect x="561.5" y="392.5" width="2" height="88" fill="#f00"/>
<rect x="563.5" y="392.5" width="2" height="88" fill="#f00"/>
<rect x="566.5" y="392.5" width="1" height="88" fill="#f00"/>
<rect x="568.5" y="392.5" width="2" height="88" fill="#f00"/>
<rect x="570.5" y="392.5" width="2" height="88" fill="#f00"/>
<rect x="572.5" y="392.5" width="2" height="88" fill="#f00"/>
<rect x="574.5" y="392.5" width="2" height="88" fill="#f00"/>
<rect x="577.5" y="392.5" width="1" height="88" fill="#f00"/>
<rect x="579.5" y="392.5" width="2" height="88" fill="#f00"/>
<rect x="581.5" y="392.5" width="2" height="88" fill="#f00"/>
<rect x="583.5" y="405.5" width="2" height="75" fill="#f00"/>
<rect x="586.5" y="405.5" width="1" height="75" fill="#f00"/>
<rect x="588.5" y="405.5" width="2" height="75" fill="#f00"/>
<rect x="590.5" y="405.5" width="2" height="75" fill="#f00"/>
<rect x="592.5" y="405.5" width="2" height="75" fill="#f00"/>
<rect x="594.5" y="405.5" width="2" height="75" fill="#f00"/>
<rect x="597.5" y="405.5" width="1" height="75" fill="#f00"/>
<rect x="599.5" y="405.5" width="2" height="75" fill="#f00"/>
<rect x="601.5" y="405.5" width="2" height="75" fill="#f00"/>
<rect x="603.5" y="405.5" width="2" height="75" fill="#f00"/>
<rect x="606.5" y="405.5" width="1" height="75" fill="#f00"/>
<rect x="608.5" y="405.5" width="2" height="75" fill="#f00"/>
<rect x="610.5" y="405.5" width="2" height="75" fill="#f00"/>
<rect x="612.5" y="405.5" width="2" height="75" fill="#f00"/>
<rect x="614.5" y="405.5" width="2" height="75" fill="#f00"/>
<rect x="617.5" y="405.5" width="1" height="75" fill="#f00"/>
<rect x="619.5" y="429.5" width="2" height="51" fill="#f00"/>
<rect x="621.5" y="429.5" width="2" height="51" fill="#f00"/>
<rect x="623.5" y="429.5" width="2" height="51" fill="#f00"/>
<rect x="626.5" y="429.5" width="1" height="51" fill="#f00"/>
<rect x="628.5" y="429.5" width="2" height="51" fill="#f00"/>
<rect x="630.5" y="429.5" width="2" height="51" fill="#f00"/>
<rect x="632.5" y="429.5" width="2" height="51" fill="#f00"/>
<rect x="634.5" y="429.5" width="2" height="51" fill="#f00"/>
<rect x="637.5" y="429.5" width="2" height="51" fill="#f00"/>
<rect x="639.5" y="429.5" width="2" height="51" fill="#f00"/>
<rect x="641.5" y="429.5" width="2" height="51" fill="#f00"/>
<rect x="643.5" y="429.5" width="2" height="51" fill="#f00"/>
<rect x="646.5" y="429.5" width="1" height="51" fill="#f00"/>
<rect x="648.5" y="429.5" width="2" height="51" fill="#f00"/>
<rect x="650.5" y="429.5" width="2" height="51" fill="#f00"/>
<rect x="652.5" y="411.5" width="2" height="69" fill="#008000"/>
<rect x="654.5" y="411.5" width="2" height="69" fill="#008000"/>
<rect x="657.5" y="411.5" width="2" height="69" fill="#008000"/>
<rect x="659.5" y="411.5" width="2" height="69" fill="#008000"/>
<rect x="661.5" y="411.5" width="2" height="69" fill="#008000"/>
<rect x="663.5" y="411.5" width="2" height="69" fill="#008000"/>
<rect x="666.5" y="411.5" width="1" height="69" fill="#008000"/>
<rect x="668.5" y="411.5" width="2" height="69" fill="#008000"/>
<rect x="670.5" y="411.5" width="2" height="69" fill="#008000"/>
<rect x="672.5" y="411.5" width="2" height="69" fill="#008000"/>
<rect x="674.5" y="411.5" width="2" height="69" fill="#008000"/>
<rect x="677.5" y="411.5" width="2" height="69" fill="#008000"/>
<rect x="679.5" y="411.5" width="2" height="69" fill="#008000"/>
<rect x="681.5" y="411.5" width="2" height="69" fill="#008000"/>
<rect x="683.5" y="415.5" width="2" height="65" fill="#008000"/>
<rect x="686.5" y="415.5" width="1" height="65" fill="#008000"/>
<rect x="688.5" y="415.5" width="2" height="65" fill="#008000"/>
<rect x="690.5" y="415.5" width="2" height="65" fill="#008000"/>
<rect x="692.5" y="415.5" width="2" height="65" fill="#008000"/>
<rect x="694.5" y="415.5" width="2" height="65" fill="#008000"/>
<rect x="697.5" y="415.5" width="2" height="65" fill="#008000"/>
<rect x="699.5" y="415.5" width="2" height="65" fill="#008000"/>
<rect x="701.5" y="415.5" width="2" height="65" fill="#008000"/>
<rect x="703.5" y="415.5" width="2" height="65" fill="#008000"/>
<rect x="706.5" y="415.5" width="1" height="65" fill="#008000"/>
<rect x="708.5" y="415.5" width="2" height="65" fill="#008000"/>
<rect x="710.5" y="415.5" width="2" height="65" fill="#008000"/>
<rect x="712.5" y="404.5" width="2" height="76" fill="#f00"/>
<rect x="714.5" y="404.5" width="2" height="76" fill="#f00"/>
<rect x="717.5" y="404.5" width="2" height="76" fill="#f00"/>
<rect x="719.5" y="404.5" width="2" height="76" fill="#f00"/>
<rect x="721.5" y="404.5" width="2" height="76" fill="#f00"/>
<rect x="723.5" y="404.5" width="2" height="76" fill="#f00"/>
<rect x="726.5" y="404.5" width="1" height="76" fill="#f00"/>
<rect x="728.5" y="404.5" width="2" height="76" fill="#f00"/>
<rect x="730.5" y="404.5" width="2" height="76" fill="#f00"/>
<rect x="732.5" y="404.5" width="2" height="76" fill="#f00"/>
<rect x="734.5" y="404.5" width="2" height="76" fill="#f00"/>
<rect x="737.5" y="404.5" width="2" height="76" fill="#f00"/>
<rect x="739.5" y="368.5" width="2" height="112" fill="#008000"/>
<rect x="741.5" y="368.5" width="2" height="112" fill="#008000"/>
<rect x="743.5" y="368.5" width="2" height="112" fill="#008000"/>
<rect x="746.5" y="368.5" width="1" height="112" fill="#008000"/>
<rect x="748.5" y="368.5" width="2" height="112" fill="#008000"/>
<rect x="750.5" y="368.5" width="2" height="112" fill="#008000"/>
<rect x="752.5" y="368.5" width="2" height="112" fill="#008000"/>
<rect x="754.5" y="368.5" width="2" height="112" fill="#008000"/>
<rect x="757.5" y="368.5" width="2" height="112" fill="#008000"/>
<rect x="759.5" y="368.5" width="2" height="112" fill="#008000"/>
<rect x="761.5" y="368.5" width="2" height="112" fill="#008000"/>
<rect x="763.5" y="382.5" width="2" height="98" fill="#008000"/>
<rect x="766.5" y="382.5" width="1" height="98" fill="#008000"/>
<rect x="768.5" y="382.5" width="2" height="98" fill="#008000"/>
<rect x="770.5" y="382.5" width="2" height="98" fill="#008000"/>
<rect x="772.5" y="382.5" width="2" height="98" fill="#008000"/>
<rect x="774.5" y="382.5" width="2" height="98" fill="#008000"/>
<rect x="777.5" y="382.5" width="2" height="98" fill="#008000"/>
<rect x="779.5" y="382.5" width="2" height="98" fill="#008000"/>
<rect x="781.5" y="382.5" width="2" height="98" fill="#008000"/>
<rect x="783.5" y="382.5" width="2" height="98" fill="#008000"/>
<rect x="786.5" y="399.5" width="1" height="81" fill="#f00"/>
<rect x="788.5" y="399.5" width="2" height="81" fill="#f00"/>
<rect x="790.5" y="399.5" width="2" height="81" fill="#f00"/>
<rect x="792.5" y="399.5" width="2" height="81" fill="#f00"/>
<rect x="794.5" y="399.5" width="2" height="81" fill="#f00"/>
<rect x="797.5" y="399.5" width="2" height="81" fill="#f00"/>
<rect x="799.5" y="399.5" width="2" height="81" fill="#f00"/>
<rect x="801.5" y="399.5" width="2" height="81" fill="#f00"/>
<rect x="803.5" y="399.5" width="2" height="81" fill="#f00"/>
<rect x="806.5" y="416.5" width="1" height="64" fill="#f00"/>
<rect x="808.5" y="416.5" width="2" height="64" fill="#f00"/>
<rect x="810.5" y="416.5" width="2" height="64" fill="#f00"/>
<rect x="812.5" y="416.5" width="2" height="64" fill="#f00"/>
<rect x="815.5" y="416.5" width="1" height="64" fill="#f00"/>
<rect x="817.5" y="416.5" width="2" height="64" fill="#f00"/>
<rect x="819.5" y="416.5" width="2" height="64" fill="#f00"/>
<rect x="821.5" y="416.5" width="2" height="64" fill="#f00"/>
<rect x="823.5" y="400.5" width="2" height="80" fill="#f00"/>
<rect x="826.5" y="400.5" width="1" height="80" fill="#f00"/>
<rect x="828.5" y="400.5" width="2" height="80" fill="#f00"/>
<rect x="830.5" y="400.5" width="2" height="80" fill="#f00"/>
<rect x="832.5" y="400.5" width="2" height="80" fill="#f00"/>
<rect x="835.5" y="400.5" width="1" height="80" fill="#f00"/>
<rect x="837.5" y="400.5" width="2" height="80" fill="#f00"/>
<rect x="839.5" y="422.5" width="2" height="58" fill="#008000"/>
<rect x="841.5" y="422.5" width="2" height="58" fill="#008000"/>
<rect x="843.5" y="422.5" width="2" height="58" fill="#008000"/>
<rect x="846.5" y="422.5" width="1" height="58" fill="#008000"/>
<rect x="848.5" y="422.5" width="2" height="58" fill="#008000"/>
<rect x="850.5" y="422.5" width="2" height="58" fill="#008000"/>
<rect x="852.5" y="404.5" width="2" height="76" fill="#f00"/>
<rect x="855.5" y="404.5" width="1" height="76" fill="#f00"/>
<rect x="857.5" y="404.5" width="2" height="76" fill="#f00"/>
<rect x="859.5" y="404.5" width="2" height="76" fill="#f00"/>
<rect x="861.5" y="404.5" width="2" height="76" fill="#f00"/>
<rect x="863.5" y="420.5" width="2" height="60" fill="#f00"/>
<rect x="866.5" y="420.5" width="1" height="60" fill="#f00"/>
<rect x="868.5" y="420.5" width="2" height="60" fill="#f00"/>
<rect x="870.5" y="420.5" width="2" height="60" fill="#f00"/>
<rect x="872.5" y="428.5" width="2" height="52" fill="#f00"/>
<rect x="875.5" y="428.5" width="1" height="52" fill="#f00"/>
<rect x="877.5" y="428.5" width="2" height="52" fill="#f00"/>
<rect x="879.5" y="432.5" width="2" height="48" fill="#008000"/>
<rect x="881.5" y="432.5" width="2" height="48" fill="#008000"/>
<rect x="883.5" y="423.5" width="2" height="57" fill="#f00"/>
</g></g>
<g fill="#000">
<path d="M184.5 357.5V69.5M920.5 357.5V69.5" fill="none" stroke="#000" stroke-width="1.111" stroke-linecap="square"/><rect x="183.944" y="69" width="737.111" height="1"/><rect x="183.944" y="68" width="737.111" height="3" opacity="0.056"/><rect x="183.944" y="357" width="737.111" height="1"/><rect x="183.944" y="356" width="737.111" height="3" opacity="0.056"/>
<path d="M184.5 472.5V357.5M920.5 472.5V357.5" fill="none" stroke="#000" stroke-width="1.111" stroke-linecap="square"/><rect x="183.944" y="357" width="737.111" height="1"/><rect x="183.944" y="356" width="737.111" height="3" opacity="0.056"/><rect x="183.944" y="472" width="737.111" height="1"/><rect x="183.944" y="471" width="737.111" height="3" opacity="0.056"/>
<rect x="179.5" y="347" width="5" height="1"/><rect x="179.5" y="346" width="5" height="3" opacity="0.056"/>
<rect x="179.5" y="315" width="5" height="1"/><rect x="179.5" y="314" width="5" height="3" opacity="0.056"/>
<rect x="179.5" y="283" width="5" height="1"/><rect x="179.5" y="282" width="5" height="3" opacity="0.056"/>
<rect x="179.5" y="251" width="5" height="1"/><rect x="179.5" y="250" width="5" height="3" opacity="0.056"/>
<rect x="179.5" y="219" width="5" height="1"/><rect x="179.5" y="218" width="5" height="3" opacity="0.056"/>
<rect x="179.5" y="187" width="5" height="1"/><rect x="179.5" y="186" width="5" height="3" opacity="0.056"/>
<rect x="179.5" y="154" width="5" height="1"/><rect x="179.5" y="153" width="5" height="3" opacity="0.056"/>
<rect x="179.5" y="122" width="5" height="1"/><rect x="179.5" y="121" width="5" height="3" opacity="0.056"/>
<rect x="179.5" y="90" width="5" height="1"/><rect x="179.5" y="89" width="5" height="3" opacity="0.056"/>
<rect x="179.5" y="448" width="5" height="1"/><rect x="179.5" y="447" width="5" height="3" opacity="0.056"/>
<rect x="179.5" y="415" width="5" height="1"/><rect x="179.5" y="414" width="5" height="3" opacity="0.056"/>
<rect x="179.5" y="382" width="5" height="1"/><rect x="179.5" y="381" width="5" height="3" opacity="0.056"/>
<path d="M220.5 472.5V477.5M331.5 472.5V477.5M442.5 472.5V477.5M553.5 472.5V477.5M664.5 472.5V477.5M775.5 472.5V477.5M887.5 472.5V477.5" fill="none" stroke="#000" stroke-width="1.111"/>
</g>
<g font-family="'DejaVu Sans','Liberation Sans',sans-serif" fill="#000" font-size="13.889">
<text transform="translate(510.75,15.5) scale(1,1.08)" text-anchor="middle" font-size="16.667" textLength="527.4" lengthAdjust="spacing">MES 12-Minute Chart (2025-11-19 16:00~17:00) - MA on HLC/3</text>
<text x="174.3" y="352.69" text-anchor="end">6636</text>
<text x="174.45" y="320.64" text-anchor="end">6638</text>
<text x="174.42" y="288.67" text-anchor="end">6640</text>
<text x="174.28" y="255.59" text-anchor="end">6642</text>
<text x="174.43" y="223.59" text-anchor="end">6644</text>
<text x="174.37" y="191.67" text-anchor="end">6646</text>
<text x="174.4" y="159.65" text-anchor="end">6648</text>
<text x="174.42" y="127.72" text-anchor="end">6650</text>
<text x="174.43" y="95.66" text-anchor="end">6652</text>
<text x="173.35" y="452.68" text-anchor="end">500</text>
<text x="174.34" y="419.64" text-anchor="end">1000</text>
<text x="174.19" y="386.63" text-anchor="end">1500</text>
<text transform="translate(130.62,215.91) rotate(-90)" text-anchor="middle">Price</text>
<text transform="translate(129.5,416.32) rotate(-90)" text-anchor="middle">Volume</text>
<text transform="translate(217.969,500.34) rotate(-45)" y="5.06" text-anchor="middle">01:48</text>
<text transform="translate(329.097,500.21) rotate(-45)" y="5.06" text-anchor="middle">01:54</text>
<text transform="translate(441.164,500.47) rotate(-45)" y="5.06" text-anchor="middle">02:00</text>
<text transform="translate(551.982,500.41) rotate(-45)" y="5.06" text-anchor="middle">02:09</text>
<text transform="translate(662.959,500.35) rotate(-45)" y="5.06" text-anchor="middle">02:18</text>
<text transform="translate(774.177,500.28) rotate(-45)" y="5.06" text-anchor="middle">02:30</text>
</g>
</svg>
</body></html>
